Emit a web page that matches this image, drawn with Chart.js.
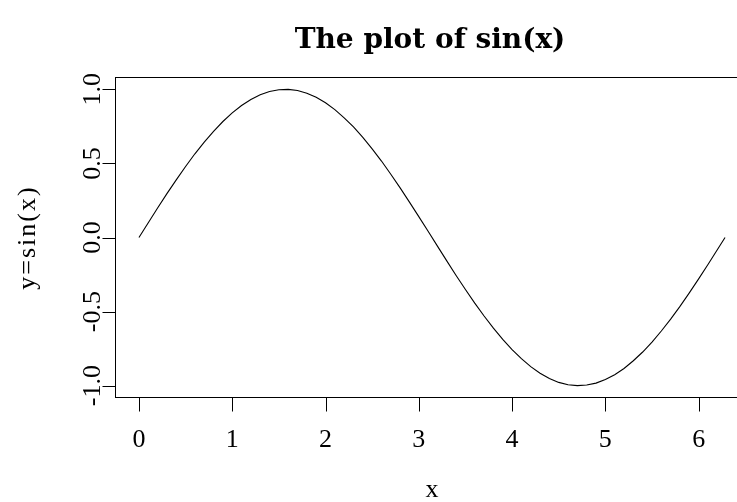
<!DOCTYPE html>
<html>
<head>
<meta charset="utf-8">
<script src="https://cdn.jsdelivr.net/npm/chart.js@4.4.1/dist/chart.umd.min.js"></script>
<style>
  html, body { margin: 0; padding: 0; background: #fff; overflow: hidden; }
  #wrap { width: 760px; height: 502px; }
</style>
</head>
<body>
<div id="wrap"><canvas id="sinPlot" width="760" height="502"></canvas></div>
<script>
// sample points of the curve
var xs = [0.0, 0.1, 0.2, 0.3, 0.4, 0.5, 0.6, 0.7, 0.8, 0.9,
  1.0, 1.1, 1.2, 1.3, 1.4, 1.5, 1.6, 1.7, 1.8, 1.9,
  2.0, 2.1, 2.2, 2.3, 2.4, 2.5, 2.6, 2.7, 2.8, 2.9,
  3.0, 3.1, 3.2, 3.3, 3.4, 3.5, 3.6, 3.7, 3.8, 3.9,
  4.0, 4.1, 4.2, 4.3, 4.4, 4.5, 4.6, 4.7, 4.8, 4.9,
  5.0, 5.1, 5.2, 5.3, 5.4, 5.5, 5.6, 5.7, 5.8, 5.9,
  6.0, 6.1, 6.2, 6.283];
var ys = [0.000, 0.100, 0.199, 0.296, 0.389, 0.479, 0.565, 0.644, 0.717, 0.783,
  0.841, 0.891, 0.932, 0.964, 0.985, 0.997, 1.000, 0.992, 0.974, 0.946,
  0.909, 0.863, 0.808, 0.746, 0.676, 0.598, 0.516, 0.427, 0.335, 0.239,
  0.141, 0.042, -0.058, -0.158, -0.256, -0.351, -0.443, -0.530, -0.612, -0.688,
  -0.757, -0.818, -0.872, -0.916, -0.952, -0.978, -0.994, -1.000, -0.996, -0.983,
  -0.959, -0.926, -0.884, -0.832, -0.773, -0.706, -0.631, -0.551, -0.465, -0.374,
  -0.279, -0.182, -0.083, 0.000];

var xTicks = [0, 1, 2, 3, 4, 5, 6];
var yTicks = [-1.0, -0.5, 0.0, 0.5, 1.0];
var yTickLabels = ['-1.0', '-0.5', '0.0', '0.5', '1.0'];

var titleText = 'The plot of sin(x)';
var xLabel = 'x';
var yLabel = 'y=sin(x)';

var points = xs.map(function(x, i) {
  return { x: x, y: ys[i] };
});

// base-graphics style frame, ticks and labels
var rAxes = {
  id: 'rAxes',
  afterDraw: function(chart) {
    var ctx = chart.ctx;
    var area = chart.chartArea;
    var sx = chart.scales.x;
    var sy = chart.scales.y;
    var serif = '"Liberation Serif", "DejaVu Serif", serif';

    ctx.save();
    ctx.strokeStyle = '#000';
    ctx.fillStyle = '#000';
    ctx.lineWidth = 1;

    // box
    ctx.strokeRect(area.left, area.top, area.right - area.left, area.bottom - area.top);

    // x axis
    ctx.beginPath();
    ctx.moveTo(sx.getPixelForValue(xTicks[0]), area.bottom);
    ctx.lineTo(sx.getPixelForValue(xTicks[xTicks.length - 1]), area.bottom);
    xTicks.forEach(function(t) {
      var px = Math.round(sx.getPixelForValue(t)) + 0.5;
      ctx.moveTo(px, area.bottom);
      ctx.lineTo(px, area.bottom + 14);
    });
    // y axis
    ctx.moveTo(area.left, sy.getPixelForValue(yTicks[0]));
    ctx.lineTo(area.left, sy.getPixelForValue(yTicks[yTicks.length - 1]));
    yTicks.forEach(function(t) {
      var py = Math.round(sy.getPixelForValue(t)) + 0.5;
      ctx.moveTo(area.left, py);
      ctx.lineTo(area.left - 13, py);
    });
    ctx.stroke();

    ctx.font = '26px ' + serif;
    ctx.textAlign = 'center';
    ctx.textBaseline = 'alphabetic';
    xTicks.forEach(function(t) {
      ctx.fillText(String(t), sx.getPixelForValue(t), 447);
    });

    yTicks.forEach(function(t, i) {
      ctx.save();
      ctx.translate(100, sy.getPixelForValue(t));
      ctx.rotate(-Math.PI / 2);
      ctx.fillText(yTickLabels[i], 0, 0);
      ctx.restore();
    });

    // axis titles
    var midX = (area.left + area.right) / 2;
    ctx.fillText(xLabel, midX, 497);
    ctx.save();
    ctx.translate(35, (area.top + area.bottom) / 2 + 1);
    ctx.rotate(-Math.PI / 2);
    ctx.letterSpacing = '2px';
    ctx.fillText(yLabel, 1, 0);
    ctx.restore();

    // main title
    ctx.font = 'bold 28px "DejaVu Serif", serif';
    ctx.fillText(titleText, midX - 2, 48);

    ctx.restore();
  }
};

new Chart(document.getElementById('sinPlot'), {
  type: 'line',
  data: {
    datasets: [{
      data: points,
      borderColor: '#000',
      borderWidth: 1.1,
      pointRadius: 0,
      tension: 0,
      fill: false
    }]
  },
  options: {
    responsive: false,
    animation: false,
    events: [],
    layout: {
      padding: { left: 115.5, top: 77.5, right: 11.5, bottom: 104.5 }
    },
    plugins: {
      legend: { display: false },
      tooltip: { enabled: false },
      title: { display: false }
    },
    scales: {
      x: { type: 'linear', display: false, min: -0.2513, max: 6.5345 },
      y: { type: 'linear', display: false, min: -1.08, max: 1.08 }
    }
  },
  plugins: [rAxes]
});
</script>
</body>
</html>
